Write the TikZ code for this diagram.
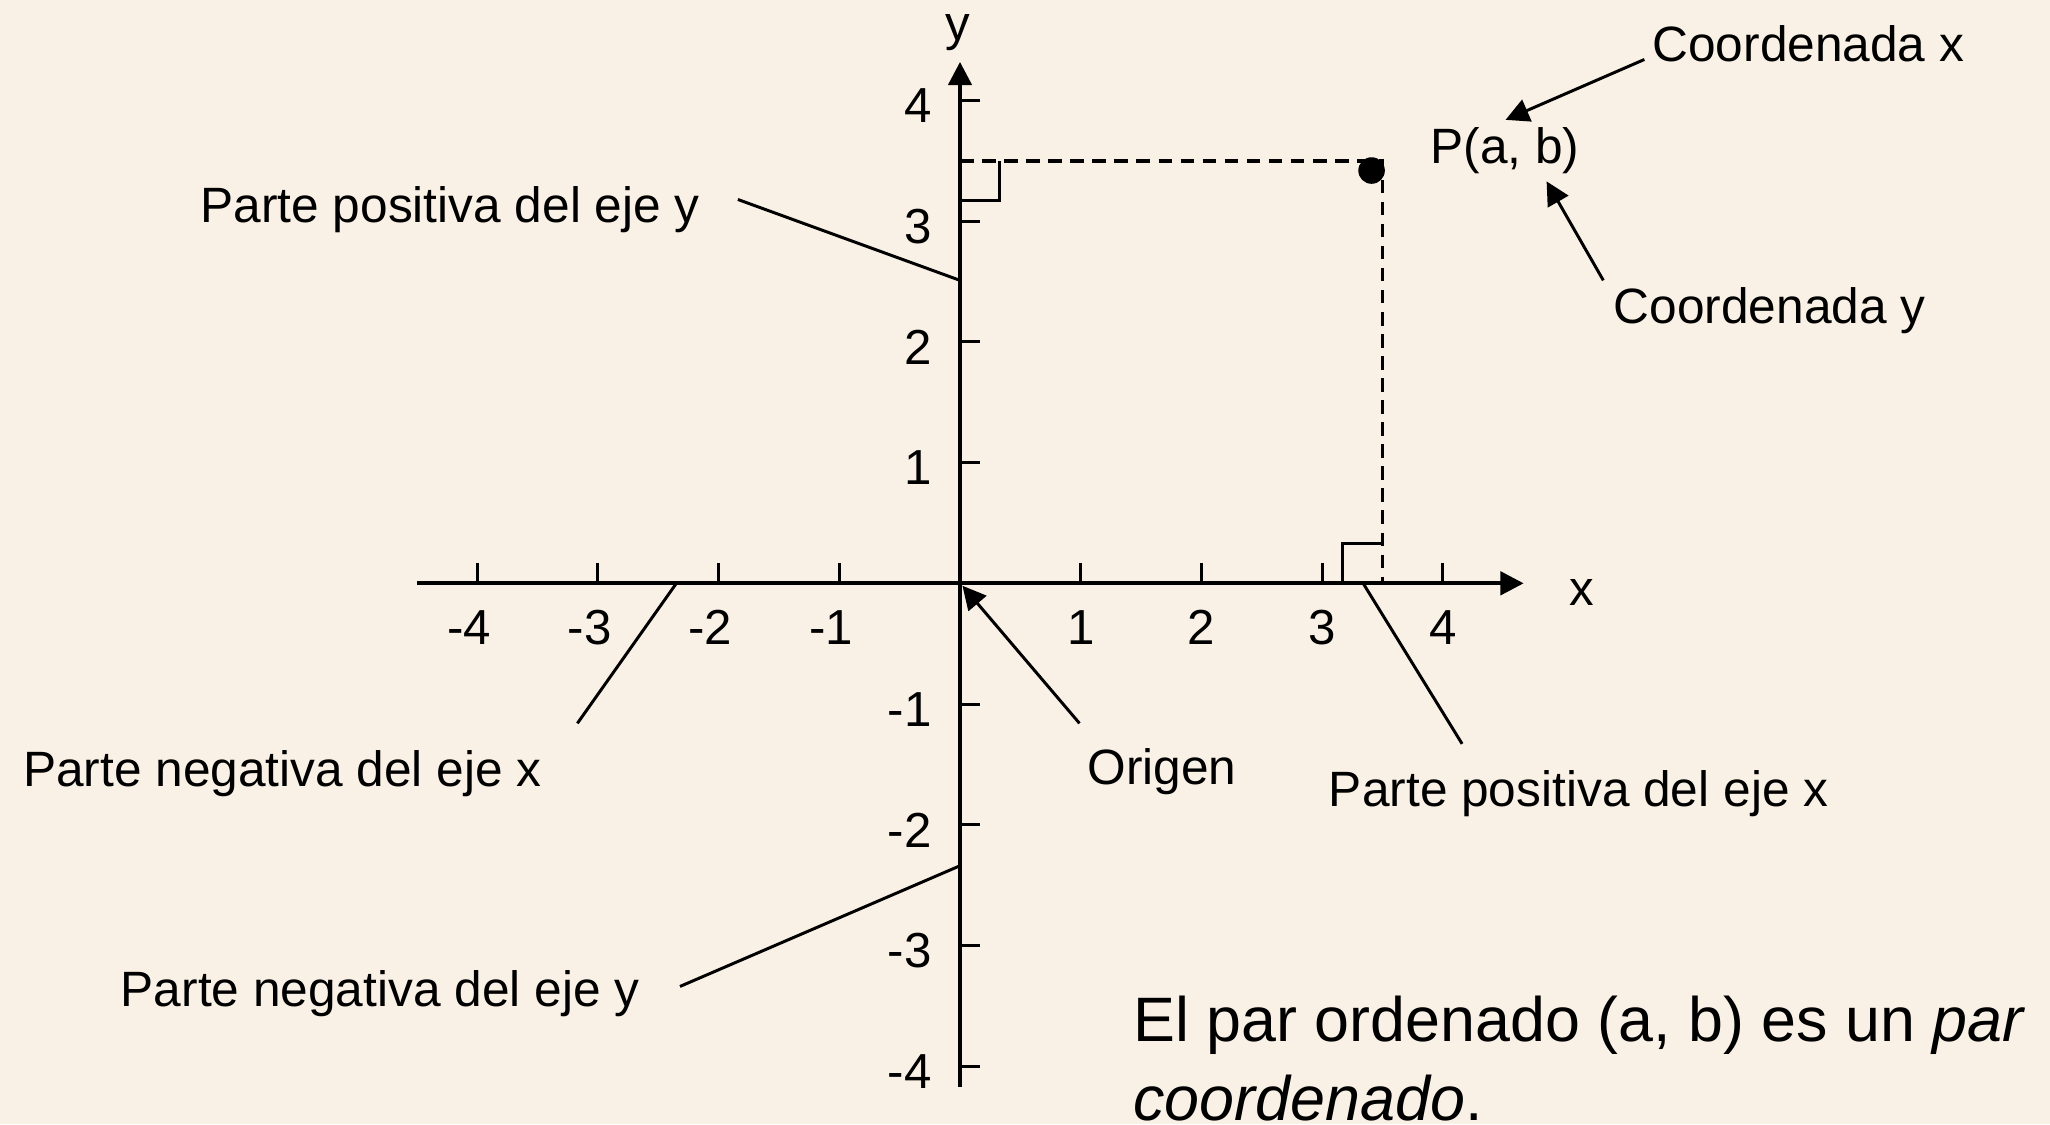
\documentclass[tikz,border=0pt]{standalone}
\usepackage{fontspec}
\setmainfont{Liberation Sans}
\usetikzlibrary{arrows.meta, positioning}
\definecolor{paper}{RGB}{250,241,230}

\begin{document}
\begin{tikzpicture}[>={Triangle[length=5.5pt,width=5.5pt]},
    lbl/.style={font=\fontsize{11.7}{14}\selectfont, inner sep=0pt, anchor=base west},
    num/.style={font=\fontsize{11.6}{14}\selectfont, inner sep=0pt},
    axis/.style={line width=0.95pt},
    lead/.style={line width=0.7pt},
    guide/.style={line width=0.8pt, dash pattern=on 3.2pt off 2pt}]
  \fill[paper] (-7.954,-4.48) rectangle (9.031,4.833);
  \useasboundingbox (-7.954,-4.48) rectangle (9.031,4.833);

  % Axes
  \coordinate (xl) at (-4.5,0);
  \coordinate (xr) at (4.67,0);
  \coordinate (yb) at (0,-4.17);
  \coordinate (yt) at (0,4.32);
  \draw[axis, ->] (xl) -- (xr);
  \draw[axis, ->] (yb) -- (yt);
  \node[num, anchor=base] (xname) at (5.15,-0.18) {x};
  \node[num, anchor=base] (yname) at (-0.02,4.50) {y};

  % Ticks and numbers
  \foreach \i in {1,...,4} {
    \draw[lead] (\i,0) -- (\i,0.166);
    \draw[lead] (-\i,0) -- (-\i,0.166);
    \draw[lead] (0,\i) -- (0.166,\i);
    \draw[lead] (0,-\i) -- (0.166,-\i);
    \node[num, anchor=base] (xp\i) at (\i,-0.51) {\i};
    \node[num, anchor=base] (xn\i) at (-\i,-0.51) {\llap{-}\i};
    \node[num, anchor=base east] (yp\i) at (-0.23,\i-0.185) {\i};
    \node[num, anchor=base east] (yn\i) at (-0.23,-\i-0.185) {-\i};
  }

  % Point P and its projections
  \coordinate (P) at (3.5,3.5);
  \coordinate (Py) at (0,3.5);
  \coordinate (Px) at (3.5,0);
  \draw[guide] (Py) -- (P) -- (Px);
  \draw[lead] (0,3.175) -- (0.33,3.175) -- (0.33,3.5);
  \draw[lead] (3.17,0) -- (3.17,0.33) -- (3.5,0.33);
  \node[circle, fill, inner sep=0pt, minimum size=0.22cm] (dot) at (3.41,3.42) {};
  \node[lbl] (pab) at (3.89,3.48) {P(a, b)};

  % Coordinate labels
  \node[lbl] (cx) at (5.73,4.32) {Coordenada x};
  \node[lbl] (cy) at (5.41,2.15) {Coordenada y};
  \coordinate (cx-a) at (5.67,4.34);
  \coordinate (cx-b) at (4.52,3.84);
  \coordinate (cy-a) at (5.33,2.51);
  \coordinate (cy-b) at (4.86,3.33);
  \draw[lead, ->] (cx-a) -- (cx-b);
  \draw[lead, ->] (cy-a) -- (cy-b);

  % Parts of the axes
  \node[lbl] (ppy) at (-6.30,2.99) {Parte positiva del eje y};
  \node[lbl] (pnx) at (-7.77,-1.685) {Parte negativa del eje x};
  \node[lbl] (org) at (1.05,-1.67) {Origen};
  \node[lbl] (ppx) at (3.05,-1.85) {Parte positiva del eje x};
  \node[lbl] (pny) at (-6.96,-3.51) {Parte negativa del eje y};
  \coordinate (ppy-a) at (-1.84,3.18);
  \coordinate (ppy-b) at (0,2.51);
  \coordinate (pnx-a) at (-3.17,-1.16);
  \coordinate (pnx-b) at (-2.35,0);
  \coordinate (org-a) at (0.99,-1.16);
  \coordinate (org-b) at (0.02,-0.02);
  \coordinate (ppx-a) at (4.16,-1.33);
  \coordinate (ppx-b) at (3.34,0);
  \coordinate (pny-a) at (-2.32,-3.34);
  \coordinate (pny-b) at (0,-2.34);
  \draw[lead] (ppy-a) -- (ppy-b);
  \draw[lead] (pnx-a) -- (pnx-b);
  \draw[lead, ->] (org-a) -- (org-b);
  \draw[lead] (ppx-a) -- (ppx-b);
  \draw[lead] (pny-a) -- (pny-b);

  % Note (base is the last line)
  \node[inner sep=0pt, anchor=base west, align=left,
        font=\fontsize{14.8}{18.6}\selectfont] (note) at (1.43,-4.45)
    {El par ordenado (a, b) es un \textit{par}\\\textit{coordenado}.};
\end{tikzpicture}
\end{document}
